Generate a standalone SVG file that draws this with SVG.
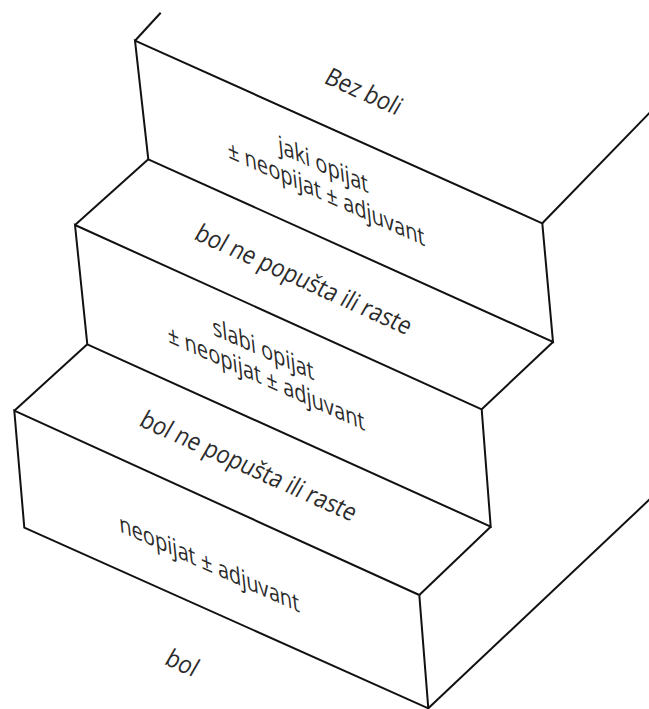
<svg xmlns="http://www.w3.org/2000/svg" width="649" height="709" viewBox="0 0 649 709">
  <style>
    .edge { fill: none; stroke: #111; stroke-width: 2; stroke-linejoin: miter; stroke-linecap: butt; }
    .face { fill: #fff; stroke: #111; stroke-width: 2; stroke-linejoin: miter; }
    .lbl { font-family: "Open Sans", "Noto Sans", "Liberation Sans", sans-serif; font-size: 25px; fill: #2b2b2b; text-anchor: middle; }
  </style>
  <rect width="649" height="709" fill="#fff"/>
  <g id="connectors">
    <path class="edge" d="M160.7,12.7 L135,40.7"/>
    <path class="edge" d="M542.3,223.3 L660,102"/>
    <path class="edge" d="M148.3,159.3 L75,225"/>
    <path class="edge" d="M553,342 L481.7,409.3"/>
    <path class="edge" d="M87.3,344.3 L14.3,410.7"/>
    <path class="edge" d="M490.7,526.7 L419.3,595"/>
    <path class="edge" d="M428.3,708.3 L660,489.6"/>
  </g>
  <g id="step-top">
    <polygon class="face" points="135,40.7 542.3,223.3 553,342 148.3,159.3"/>
    <text class="lbl" transform="matrix(0.805,0.363,-0.5,0.87,359.5,99)">Bez boli</text>
    <text class="lbl" transform="matrix(0.805,0.363,0.1,0.995,324,173)">jaki opijat</text>
    <text class="lbl" transform="matrix(0.805,0.363,0.1,0.995,327,202)">± neopijat ± adjuvant</text>
  </g>
  <g id="step-middle">
    <polygon class="face" points="75,225 481.7,409.3 490.7,526.7 87.3,344.3"/>
    <text class="lbl" transform="matrix(0.805,0.363,-0.5,0.87,299.5,287)">bol ne popušta ili raste</text>
    <text class="lbl" transform="matrix(0.805,0.363,0.1,0.995,264,357.5)">slabi opijat</text>
    <text class="lbl" transform="matrix(0.805,0.363,0.1,0.995,267,386.5)">± neopijat ± adjuvant</text>
  </g>
  <g id="step-bottom">
    <polygon class="face" points="14.3,410.7 419.3,595 428.3,708.3 24.3,527.7"/>
    <text class="lbl" transform="matrix(0.805,0.363,-0.5,0.87,244.5,473.5)">bol ne popušta ili raste</text>
    <text class="lbl" transform="matrix(0.805,0.363,0.1,0.995,210,572)">neopijat ± adjuvant</text>
  </g>
  <g id="floor">
    <text class="lbl" transform="matrix(0.805,0.363,-0.5,0.87,178,670.5)">bol</text>
  </g>
</svg>
